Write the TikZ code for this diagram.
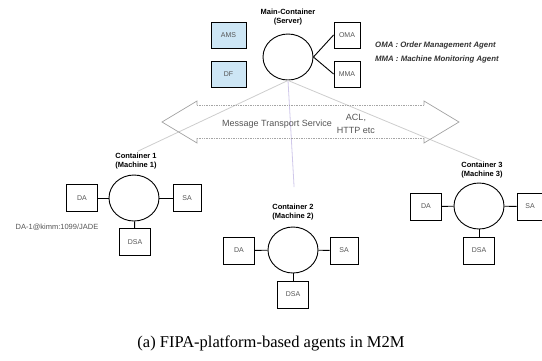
\documentclass[tikz,border=0pt]{standalone}
\usepackage{fontspec}
\setmainfont{Liberation Serif}
\setsansfont{Liberation Sans}
\usepackage{tikz}
\usetikzlibrary{positioning,calc}
\usetikzlibrary{shapes.geometric}
\definecolor{boxblue}{RGB}{205, 230, 245}
\definecolor{linegray}{RGB}{205, 205, 205}
\definecolor{linelavender}{RGB}{208, 200, 234}
\definecolor{arrowgray}{RGB}{165, 165, 165}
\definecolor{textgray}{RGB}{85, 85, 85}

\begin{document}
\begin{tikzpicture}[x=1pt,y=-1pt,
        agent/.style={draw,line width=0.9pt,minimum width=31pt,minimum height=27pt,inner sep=0pt,
            font=\sffamily\fontsize{7}{8}\selectfont,text=textgray},
        container/.style={draw,line width=0.9pt,ellipse,minimum width=50pt,minimum height=46pt,inner sep=0pt},
        link/.style={line width=0.9pt},
        title/.style={font=\sffamily\bfseries\fontsize{7.5}{8.5}\selectfont,align=center,inner sep=1pt},
        legend/.style={font=\sffamily\bfseries\itshape\fontsize{7.8}{9}\selectfont,text=black!80,anchor=west,inner sep=0pt}]
        \useasboundingbox (0,0) rectangle (542,360);

        % Main container
        \node[container] (srv) at (288,57) {};
        \node[title] (srvtitle) at (288,17) {Main-Container\\(Server)};
        \node[agent,fill=boxblue,minimum width=35pt,minimum height=26pt] (ams) at (228.5,35) {AMS};
        \node[agent,fill=boxblue,minimum width=35pt,minimum height=26pt] (df) at (228.5,74) {DF};
        \node[agent,minimum width=26pt,minimum height=26pt] (oma) at (347,35) {OMA};
        \node[agent,minimum width=26pt,minimum height=26pt] (mma) at (347,74) {MMA};
        \draw[link] (srv.east) -- (oma.west);
        \draw[link] (srv.east) -- (mma.west);

        % Legend
        \node[legend] (legoma) at (375,45) {OMA : Order Management Agent};
        \node[legend] (legmma) at (375,59) {MMA : Machine Monitoring Agent};

        % Container 1
        \node[container] (cone) at (134,198) {};
        \node[title] (conetitle) at (136,161) {Container 1\\(Machine 1)};
        \node[agent] (coneda) at (82,198) {DA};
        \node[agent,minimum width=28pt] (conesa) at (187,198) {SA};
        \node[agent] (conedsa) at (135,242) {DSA};
        \node[font=\sffamily\fontsize{7.5}{9}\selectfont,text=textgray] (conename) at (57,227) {DA-1@kimm:1099/JADE};
        \draw[link] (cone) -- (coneda);
        \draw[link] (cone) -- (conesa);
        \draw[link] (cone) -- (conedsa);

        % Container 2
        \node[container] (ctwo) at (293,250) {};
        \node[title] (ctwotitle) at (293,212) {Container 2\\(Machine 2)};
        \node[agent] (ctwoda) at (239,250.5) {DA};
        \node[agent,minimum width=28pt] (ctwosa) at (344,250.5) {SA};
        \node[agent] (ctwodsa) at (293,294.5) {DSA};
        \draw[link] (ctwo) -- (ctwoda);
        \draw[link] (ctwo) -- (ctwosa);
        \draw[link] (ctwo) -- (ctwodsa);

        % Container 3
        \node[container] (cthree) at (479,206) {};
        \node[title] (cthreetitle) at (482,170) {Container 3\\(Machine 3)};
        \node[agent] (cthreeda) at (426,206.5) {DA};
        \node[agent,minimum width=26pt] (cthreesa) at (530,206.5) {SA};
        \node[agent] (cthreedsa) at (479,250.5) {DSA};
        \draw[link] (cthree) -- (cthreeda);
        \draw[link] (cthree) -- (cthreesa);
        \draw[link] (cthree) -- (cthreedsa);

        % Server to containers
        \draw[linegray,line width=0.8pt,shorten >=2pt] (srv.south) -- (conetitle.north);
        \draw[linelavender,line width=0.8pt,shorten >=16pt] (srv.south) -- ($(ctwotitle.north)+(2,0)$);
        \draw[linegray,line width=0.8pt] (srv.south) -- (cthreetitle.north);

        % Message transport
        \draw[arrowgray,line width=0.7pt] (197,105) -- (197,101) -- (162,122) -- (197,143) -- (197,138);
        \draw[arrowgray,line width=0.7pt] (424,105) -- (424,101) -- (459,122) -- (424,143) -- (424,138);
        \draw[arrowgray,line width=0.7pt,densely dotted] (197,105) -- (424,105);
        \draw[arrowgray,line width=0.7pt,densely dotted] (197,138) -- (424,138);
        \node[font=\sffamily\fontsize{9}{10}\selectfont,text=textgray] (mts) at (277,124) {Message Transport Service};
        \node[font=\sffamily\fontsize{9}{12.5}\selectfont,text=textgray,align=center] (acl) at (356,124) {ACL,\\HTTP etc};

        % Caption
        \node[font=\fontsize{16.5}{19}\selectfont] (caption) at (271,343) {(a) FIPA-platform-based agents in M2M};
    \end{tikzpicture}
\end{document}
